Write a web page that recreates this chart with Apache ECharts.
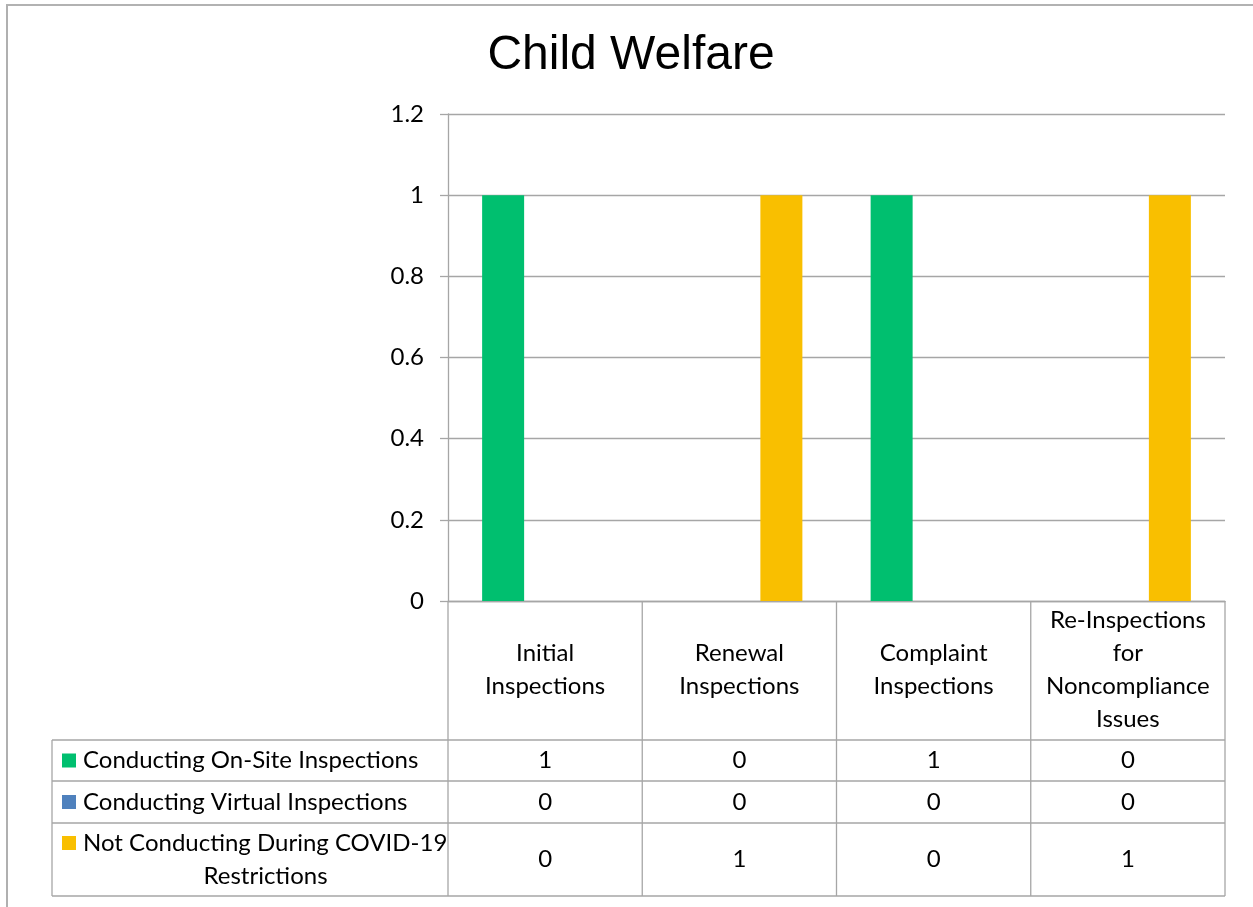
<!DOCTYPE html>
<html>
<head>
<meta charset="utf-8">
<script src="https://cdn.jsdelivr.net/npm/echarts@6/dist/echarts.min.js"></script>
<style>
html,body{margin:0;padding:0;background:#fff;}
#c{width:1253px;height:907px;}
</style>
</head>
<body>
<div id="c"></div>
<script>
const categories = ['Initial Inspections', 'Renewal Inspections', 'Complaint Inspections', 'Re-Inspections for Noncompliance Issues'];
const seriesNames = ['Conducting On-Site Inspections', 'Conducting Virtual Inspections', 'Not Conducting During COVID-19 Restrictions'];
const onSite = [1, 0, 1, 0];
const virtualInsp = [0, 0, 0, 0];
const notConducting = [0, 1, 0, 1];
const seriesColors = ['#00BF6F', '#4F81BD', '#F9BF00'];
const seriesValues = [onSite, virtualInsp, notConducting];

const FONT = 'Lato';
const FS = 24;
const LINE = '#A6A6A6';
const G = { left: 448, top: 114, right: 1225, bottom: 601 };
const rows = [{ top: 740, h: 41 }, { top: 781, h: 42 }, { top: 823, h: 73 }];
const tableLeft = 52;

const chart = echarts.init(document.getElementById('c'), null, { renderer: 'canvas' });

const option = {
  animation: false,
  backgroundColor: '#fff',
  title: {
    text: 'Child Welfare',
    left: 626,
    textAlign: 'center',
    top: 27,
    textStyle: { fontFamily: 'Liberation Sans', fontSize: 48, fontWeight: 'normal', color: '#000' }
  },
  grid: { left: G.left, top: G.top, width: G.right - G.left, height: G.bottom - G.top, containLabel: false },
  xAxis: {
    type: 'category',
    data: categories,
    axisLine: { show: true, lineStyle: { color: LINE, width: 1.3 } },
    axisTick: { show: false },
    axisLabel: {
      interval: 0,
      margin: 69,
      verticalAlign: 'middle',
      lineHeight: 33,
      fontFamily: FONT,
      fontSize: FS,
      color: '#000',
      formatter: v => v.split(' ').join('\n')
    },
    splitLine: { show: false }
  },
  yAxis: {
    type: 'value',
    min: 0,
    max: 1.2,
    interval: 0.2,
    axisLine: { show: true, lineStyle: { color: LINE, width: 1.3 } },
    axisTick: { show: true, length: 8, lineStyle: { color: LINE, width: 1.3 } },
    axisLabel: { margin: 24, fontFamily: FONT, fontSize: FS, color: '#000' },
    splitLine: { show: true, lineStyle: { color: LINE, width: 1.3 } }
  },
  series: seriesNames.map((n, i) => ({
    name: n,
    type: 'bar',
    data: seriesValues[i],
    barWidth: 42,
    barGap: '0%',
    itemStyle: { color: seriesColors[i] }
  }))
};
chart.setOption(option);

// Build data table below the axis
const centers = categories.map((c, i) => chart.convertToPixel({ xAxisIndex: 0 }, i));
const colW = (G.right - G.left) / categories.length;
const els = [];
function hline(x1, x2, y) {
  els.push({ type: 'line', shape: { x1, y1: y, x2, y2: y }, style: { stroke: LINE, lineWidth: 1.3 }, silent: true });
}
function vline(x, y1, y2) {
  els.push({ type: 'line', shape: { x1: x, y1, x2: x, y2 }, style: { stroke: LINE, lineWidth: 1.3 }, silent: true });
}
const tableBottom = rows[rows.length - 1].top + rows[rows.length - 1].h;
for (let i = 0; i <= categories.length; i++) {
  vline(G.left + i * colW, G.bottom, tableBottom);
}
vline(tableLeft, rows[0].top, tableBottom);
rows.forEach(r => hline(tableLeft, G.right, r.top));
hline(tableLeft, G.right, tableBottom);

rows.forEach((r, i) => {
  const name = seriesNames[i];
  const wrapped = name.length > 34;
  const firstY = wrapped ? r.top + 20 : r.top + r.h / 2;
  els.push({ type: 'rect', shape: { x: 62, y: firstY - 7, width: 14, height: 14 }, style: { fill: seriesColors[i] }, silent: true });
  if (!wrapped) {
    els.push({ type: 'text', x: 83, y: firstY, style: { text: name, fontFamily: FONT, fontSize: FS, fill: '#000', textAlign: 'left', textVerticalAlign: 'middle' }, silent: true });
  } else {
    const idx = name.lastIndexOf(' ');
    const l1 = name.slice(0, idx), l2 = name.slice(idx + 1);
    els.push({ type: 'text', x: 83, y: firstY, style: { text: l1, fontFamily: FONT, fontSize: FS, fill: '#000', textAlign: 'left', textVerticalAlign: 'middle' }, silent: true });
    els.push({ type: 'text', x: (83 + G.left) / 2, y: firstY + 33, style: { text: l2, fontFamily: FONT, fontSize: FS, fill: '#000', textAlign: 'center', textVerticalAlign: 'middle' }, silent: true });
  }
  seriesValues[i].forEach((v, j) => {
    els.push({ type: 'text', x: centers[j], y: r.top + r.h / 2, style: { text: String(v), fontFamily: FONT, fontSize: FS, fill: '#000', textAlign: 'center', textVerticalAlign: 'middle' }, silent: true });
  });
});

els.push({ type: 'line', shape: { x1: 6, y1: 5, x2: 1253, y2: 5 }, style: { stroke: '#999', lineWidth: 1.5 }, silent: true });
els.push({ type: 'line', shape: { x1: 7, y1: 5, x2: 7, y2: 907 }, style: { stroke: '#B0B0B0', lineWidth: 2 }, silent: true });

chart.setOption({ graphic: { elements: els } });
</script>
</body>
</html>
